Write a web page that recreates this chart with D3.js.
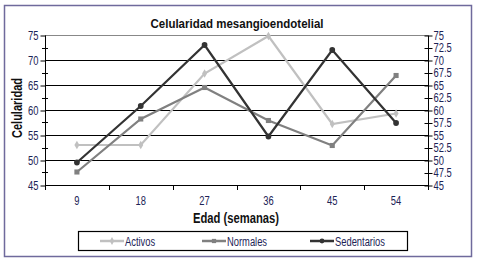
<!DOCTYPE html>
<html><head><meta charset="utf-8">
<script src="https://cdn.jsdelivr.net/npm/d3@7"></script>
<style>
body{margin:0;background:#fff;}
text{font-family:"Liberation Sans",Arial,sans-serif;}
</style></head>
<body><svg id="c" width="479" height="262"></svg>
<script>
const categories = [9, 18, 27, 36, 45, 54];
const activos = [53, 53, 67.3, 74.8, 57.2, 59.3];
const normales = [47.6, 58.2, 64.5, 57.9, 52.9, 66.9];
const sedentarios = [49.5, 60.8, 73, 54.7, 72, 57.4];
const seriesNames = ["Activos", "Normales", "Sedentarios"];
const leftTicks = [45, 50, 55, 60, 65, 70, 75];
const rightTicks = [45, 47.5, 50, 52.5, 55, 57.5, 60, 62.5, 65, 67.5, 70, 72.5, 75];

const colors = ["#c0c0c0", "#808080", "#333333"];
const symbols = [d3.symbolDiamond, d3.symbolSquare, d3.symbolCircle];
const series = [activos, normales, sedentarios];

const svg = d3.select("#c");
const L = 45, R = 428, T = 35, B = 185;
const labelColor = "#1c2456";

svg.append("rect").attr("x", 4.5).attr("y", 5.5).attr("width", 467).attr("height", 251)
  .attr("fill", "none").attr("stroke", "#6f6a9c").attr("stroke-width", 1.5);

const x = d3.scaleBand().domain(categories).range([L, R]);
const y = d3.scaleLinear().domain([45, 75]).range([B, T]);

svg.append("g").selectAll("line").data(leftTicks.filter(v => v > 45))
  .join("line").attr("x1", L).attr("x2", R)
  .attr("y1", d => Math.round(y(d)) + 0.5).attr("y2", d => Math.round(y(d)) + 0.5)
  .attr("stroke", d => d === 75 ? "#888" : "#000").attr("stroke-width", 1);

const gl = svg.append("g").attr("transform", `translate(${L + 0.5},0.5)`)
  .call(d3.axisLeft(y).tickValues(leftTicks).tickSize(5).tickFormat(d3.format("d")));
gl.select(".domain").attr("stroke", "#000").attr("d", `M0,${T}V${B}`);
gl.selectAll(".tick line").attr("stroke", "#000");
gl.selectAll(".tick text").attr("fill", labelColor).attr("font-size", 12).attr("x", -7).attr("class", "nar");
svg.append("g").selectAll("line").data(rightTicks.filter(v => !leftTicks.includes(v)))
  .join("line").attr("x1", L - 3).attr("x2", L + 3)
  .attr("y1", d => Math.round(y(d)) + 0.5).attr("y2", d => Math.round(y(d)) + 0.5)
  .attr("stroke", "#000");

const gr = svg.append("g").attr("transform", `translate(${R + 0.5},0.5)`)
  .call(d3.axisRight(y).tickValues(rightTicks).tickSize(4).tickFormat(d => d));
gr.select(".domain").attr("stroke", "#000").attr("d", `M0,${T}V${B}`);
gr.selectAll(".tick line").attr("stroke", "#000").attr("x1", -4);
gr.selectAll(".tick text").attr("fill", labelColor).attr("font-size", 12).attr("x", 5).attr("class", "nar");

svg.append("line").attr("x1", L).attr("x2", R).attr("y1", B + 0.5).attr("y2", B + 0.5).attr("stroke", "#000");
const bounds = categories.map(c => x(c)).concat([R]);
svg.append("g").selectAll("line").data(bounds).join("line")
  .attr("x1", d => Math.round(d) + 0.5).attr("x2", d => Math.round(d) + 0.5)
  .attr("y1", B).attr("y2", B + 5).attr("stroke", "#000");
svg.append("g").selectAll("text").data(categories).join("text").attr("class", "nar")
  .attr("x", d => x(d) + x.bandwidth() / 2).attr("y", 205)
  .attr("text-anchor", "middle").attr("font-size", 12).attr("fill", labelColor).text(d => d);

const line = d3.line().x((d, i) => x(categories[i]) + x.bandwidth() / 2).y(d => y(d));
series.forEach((s, k) => {
  svg.append("path").datum(s).attr("d", line).attr("fill", "none")
    .attr("stroke", colors[k]).attr("stroke-width", 2.2).attr("stroke-linejoin", "miter");
  svg.append("g").selectAll("path").data(s).join("path")
    .attr("transform", (d, i) => `translate(${x(categories[i]) + x.bandwidth() / 2},${y(d)})`)
    .attr("d", d3.symbol().type(symbols[k]).size(k === 0 ? 22 : 26))
    .attr("fill", colors[k]);
});

svg.append("text").attr("x", 237).attr("y", 28).attr("text-anchor", "middle")
  .attr("font-size", 13).attr("font-weight", "bold").attr("fill", "#111")
  .attr("textLength", 173).attr("lengthAdjust", "spacingAndGlyphs").text("Celularidad mesangioendotelial");
svg.append("text").attr("x", 236).attr("y", 223).attr("text-anchor", "middle")
  .attr("font-size", 14).attr("font-weight", "bold").attr("fill", "#111")
  .attr("textLength", 86).attr("lengthAdjust", "spacingAndGlyphs").text("Edad (semanas)");
svg.append("text").attr("transform", "translate(22,108) rotate(-90)").attr("text-anchor", "middle")
  .attr("font-size", 14).attr("font-weight", "bold").attr("fill", "#111")
  .attr("textLength", 60).attr("lengthAdjust", "spacingAndGlyphs").text("Celularidad");

svg.append("rect").attr("x", 78.5).attr("y", 231.5).attr("width", 329).attr("height", 19)
  .attr("fill", "#fff").attr("stroke", "#000").attr("stroke-width", 1.2);
const legX = [100, 202, 310];
seriesNames.forEach((n, k) => {
  svg.append("line").attr("x1", legX[k]).attr("x2", legX[k] + 24).attr("y1", 241).attr("y2", 241)
    .attr("stroke", colors[k]).attr("stroke-width", 2.5);
  svg.append("path").attr("transform", `translate(${legX[k] + 12},241)`)
    .attr("d", d3.symbol().type(symbols[k]).size(18)).attr("fill", colors[k]);
  svg.append("text").attr("class", "nar").attr("x", legX[k] + 25).attr("y", 245.5).attr("font-size", 12)
    .attr("fill", labelColor).text(n);
});

svg.selectAll("text.nar").each(function () {
  const w = this.getComputedTextLength();
  d3.select(this).attr("textLength", w * 0.78).attr("lengthAdjust", "spacingAndGlyphs");
});
</script></body></html>
